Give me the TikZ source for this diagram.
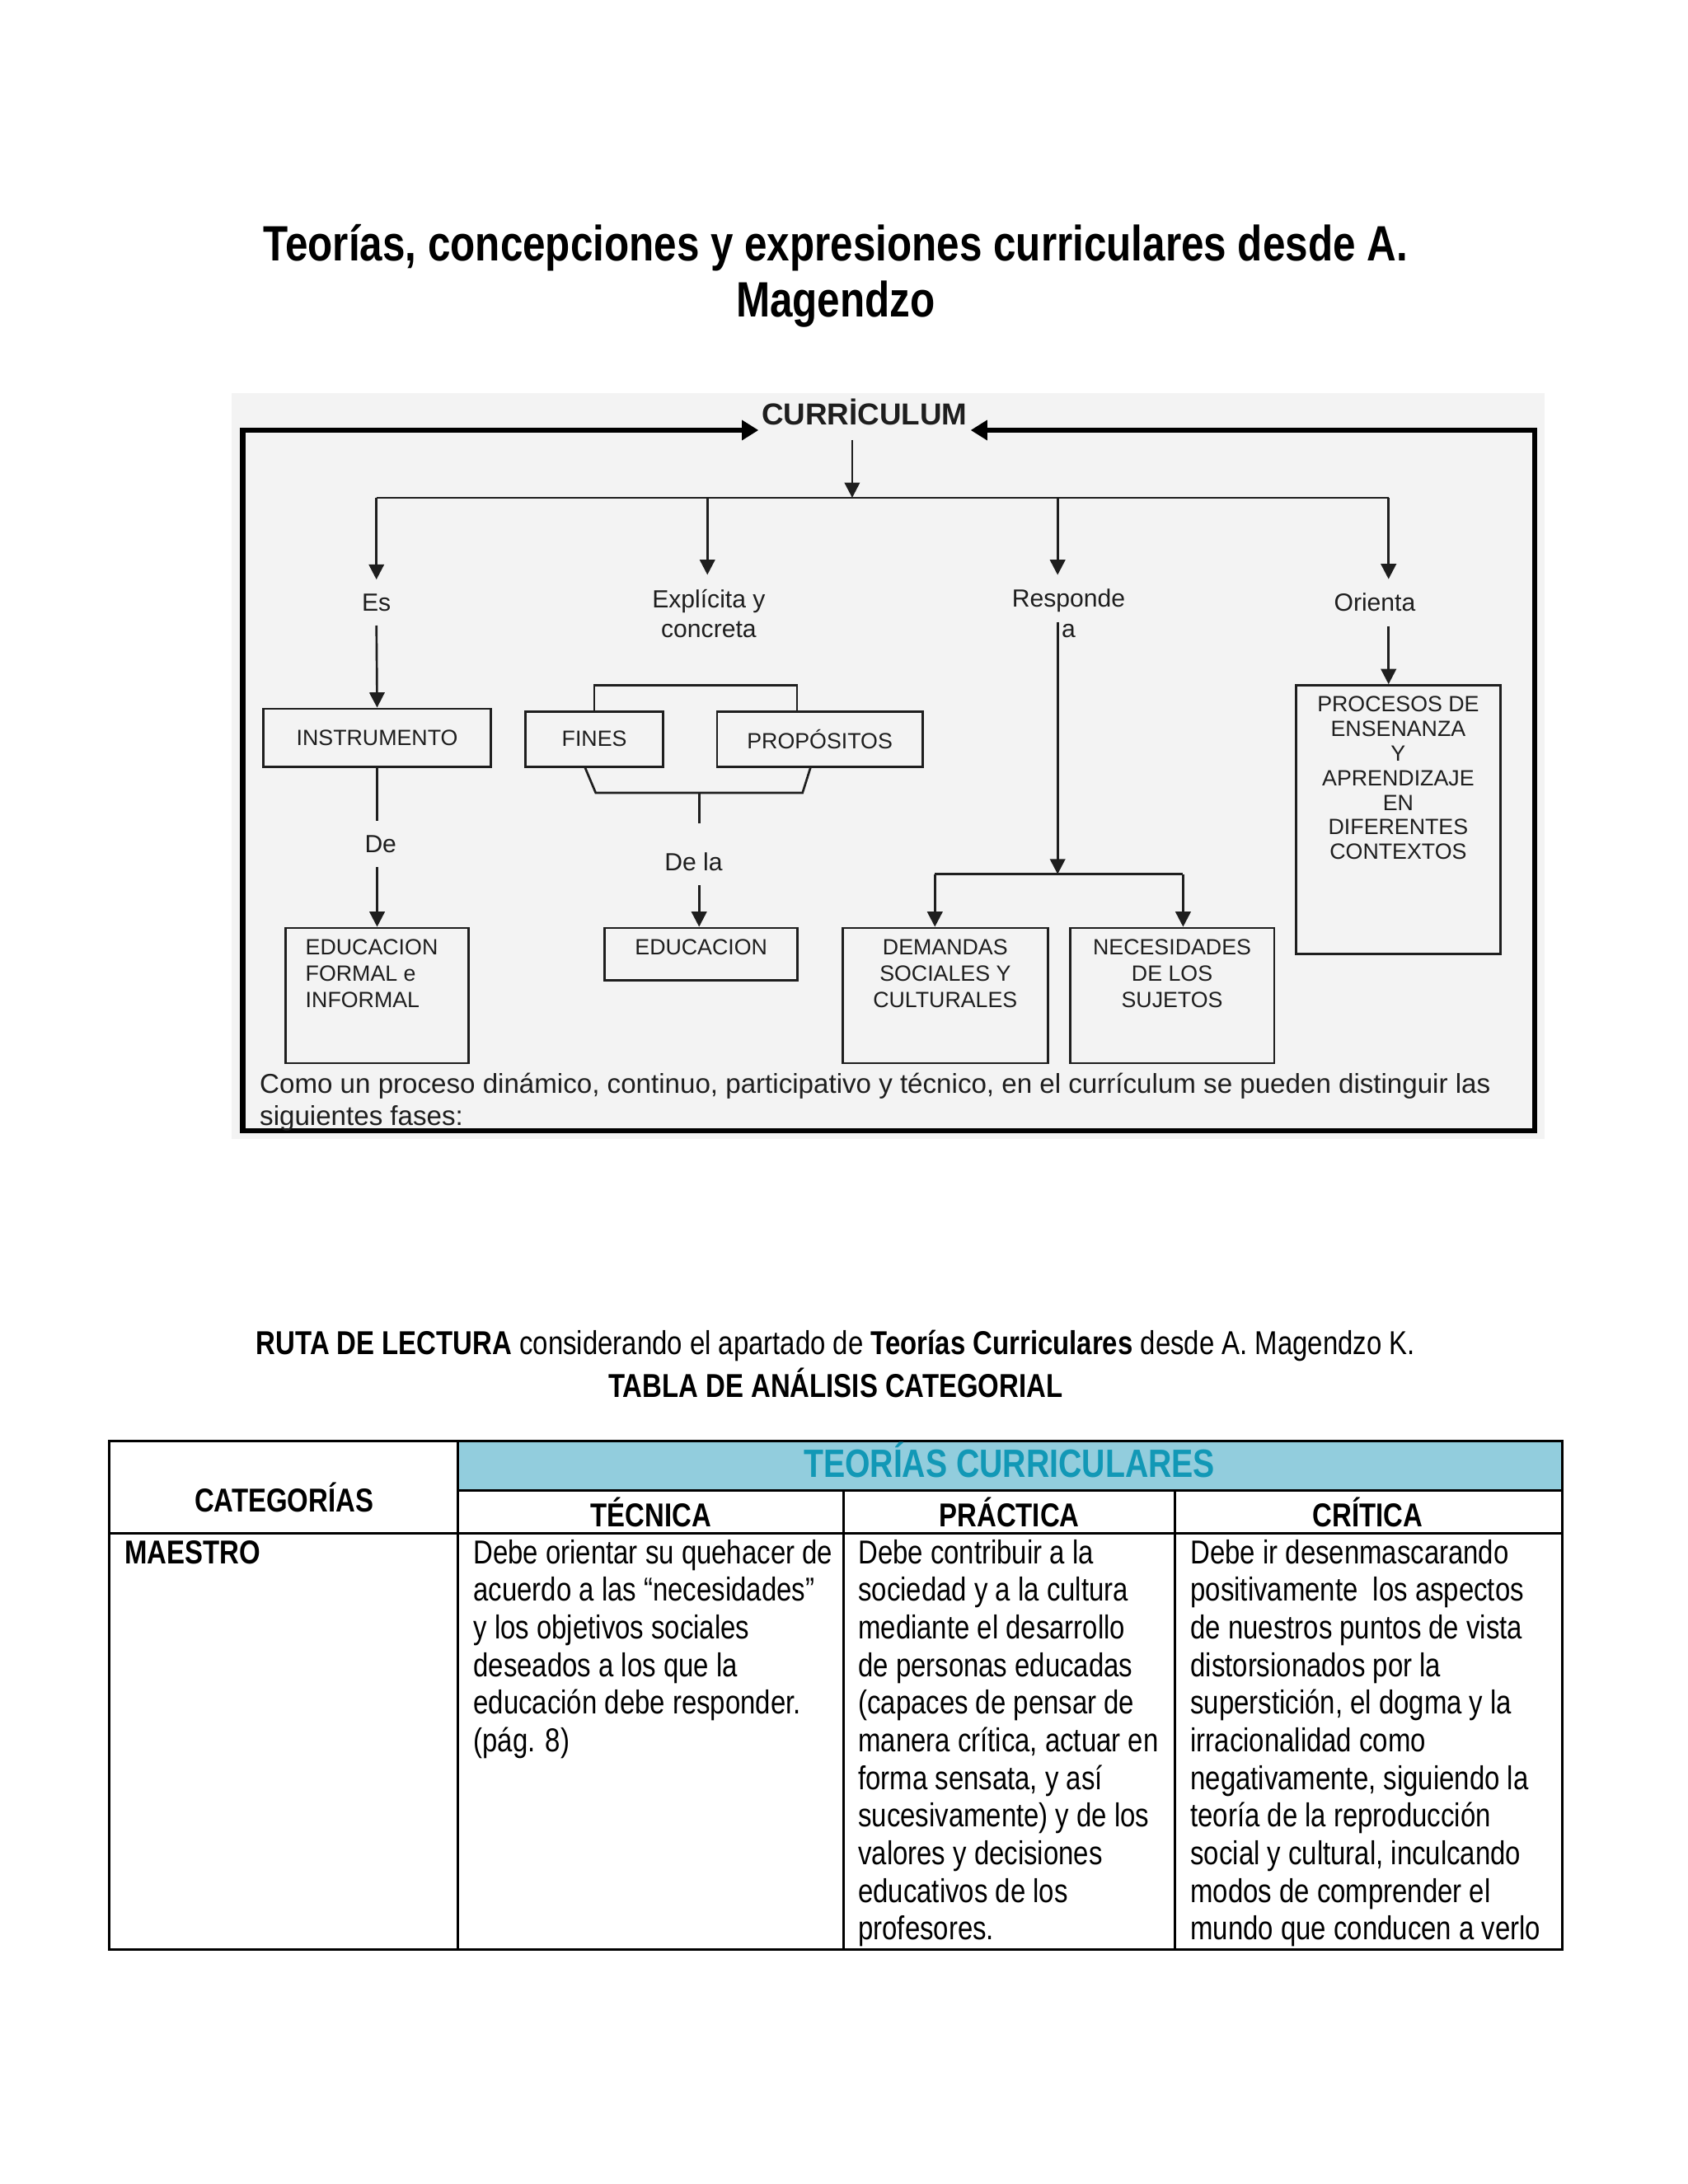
\documentclass[tikz,border=0pt]{standalone}
\usepackage{fontspec}
\setmainfont{Liberation Sans}
\newfontfamily\narrowfont{Liberation Sans}[FakeStretch=0.82]
\usetikzlibrary{arrows.meta}
\definecolor{diagbg}{RGB}{243,243,243}
\definecolor{hdrfill}{RGB}{146,205,221}
\definecolor{hdrtext}{RGB}{18,152,182}
\definecolor{ink}{RGB}{30,30,30}
\tikzset{
  conn/.style={draw=ink, line width=0.8pt},
  arr/.style={conn, -{Triangle[length=5.5pt,width=5.5pt]}},
  frameline/.style={draw=black, line width=1.9pt, line cap=rect, -{Triangle[length=6pt,width=7pt]}},
  boxst/.style={draw=ink, line width=0.8pt, inner sep=0pt, text=ink, font=\fontsize{8}{9.6}\selectfont},
  lbl/.style={text=ink, font=\fontsize{9}{11}\selectfont, align=center, inner xsep=2pt, inner ysep=5pt},
  boxtxt/.style={text=ink, font=\fontsize{8}{9.6}\selectfont, align=center, inner xsep=0pt, inner ysep=4.3pt},
  tline/.style={draw=black, line width=0.9pt},
  tbody/.style={font=\narrowfont\fontsize{12}{13.65}\selectfont, anchor=base west, inner sep=0pt},
  thead/.style={font=\narrowfont\bfseries\fontsize{12}{13.65}\selectfont, inner sep=0pt}
}
\begin{document}
\begin{tikzpicture}[x=0.5pt,y=-0.5pt]
\useasboundingbox (0,0) rectangle (1224,1584);
\fill[white] (0,0) rectangle (1224,1584);

% title
\node[font=\narrowfont\bfseries\fontsize{18}{20.5}\selectfont, align=center] (title) at (606,200)
  {Teorías, concepciones y expresiones curriculares desde A.\\Magendzo};

% ---------------- diagram ----------------
\fill[diagbg] (168,285) rectangle (1120,826);
\node[font=\bfseries\fontsize{11}{13}\selectfont, text=ink, inner sep=1pt] (curr) at (627,299) {CURRİCULUM};
\coordinate (fbl) at (176,820);
\coordinate (ftl) at (176,312);
\coordinate (fbr) at (1113,820);
\coordinate (ftr) at (1113,312);
\draw[frameline] (fbr) -- (fbl) -- (ftl) -- (ftl -| curr.west);
\draw[frameline] (fbr) -- (ftr) -- (ftr -| curr.east);

\coordinate (hubtop) at (618,319);
\coordinate (hub) at (618,361);
\draw[arr] (hubtop) -- (hub);
\coordinate (b1) at (273,361);
\coordinate (b2) at (513,361);
\coordinate (b3) at (767,361);
\coordinate (b4) at (1007,361);
\draw[conn] (b1) -- (b4);

\node[lbl] (es) at (273,437) {Es};
\node[lbl] (expl) at (514,445) {Explícita y\\concreta};
\node[lbl] (resp) at (775,445) {Responde\\a};
\node[lbl] (orient) at (997,437) {Orienta};
\draw[arr] (b1) -- (es.north);
\draw[arr] (b2) -- (b2 |- expl.north);
\draw[arr] (b3) -- (b3 |- resp.north);
\draw[arr] (b4) -- (b4 |- orient.north);

% Es branch
\node[boxst, minimum width=82.5pt, minimum height=21pt] (instr) at (273.5,535) {INSTRUMENTO};
\draw[arr] (es.south) -- (instr.north);
\node[lbl] (de) at (276,612) {De};
\draw[conn] (instr.south) -- (instr.south |- de.north);
\node[boxst, minimum width=66.5pt, minimum height=49pt,
  label={[boxtxt, align=left, anchor=north west, inner xsep=7.5pt]north west:EDUCACION\\FORMAL e\\INFORMAL}] (edf) at (273.5,722) {};
\draw[arr] (de.south -| instr.south) -- (edf.north);

% Explicita branch
\node[boxst, minimum width=50pt, minimum height=20pt] (fines) at (431,536) {FINES};
\node[boxst, minimum width=74.5pt, minimum height=20pt] (prop) at (594.5,536) {PROPÓSITOS};
\coordinate (brtop) at (578,497);
\draw[conn] (fines.north) |- (brtop) -- (brtop |- prop.north);
\coordinate (tz1) at (424,556);
\coordinate (tz2) at (432,575);
\coordinate (tz3) at (582,575);
\coordinate (tz4) at (588,556);
\coordinate (tzc) at (507,575);
\coordinate (tzd) at (507,597);
\draw[conn] (tz1) -- (tz2) -- (tz3) -- (tz4);
\draw[conn] (tzc) -- (tzd);
\node[lbl] (dela) at (503,625) {De la};
\node[boxst, minimum width=70pt, minimum height=19pt,
  label={[boxtxt, anchor=north]north:EDUCACION}] (edu) at (508.5,692) {};
\draw[arr] (dela.south -| tzc) -- (edu.north -| tzc);

% Responde branch
\coordinate (r1) at (767,451);
\coordinate (rhub) at (767,634);
\draw[arr] (r1) -- (rhub);
\coordinate (rl) at (678,634);
\coordinate (rr) at (858,634);
\draw[conn] (rl) -- (rr);
\node[boxst, minimum width=74.5pt, minimum height=49pt,
  label={[boxtxt, anchor=north]north:DEMANDAS\\SOCIALES Y\\CULTURALES}] (dem) at (685.5,722) {};
\node[boxst, minimum width=74pt, minimum height=49pt,
  label={[boxtxt, anchor=north]north:NECESIDADES\\DE LOS\\SUJETOS}] (nec) at (850,722) {};
\draw[arr] (rl) -- (rl |- dem.north);
\draw[arr] (rr) -- (rr |- nec.north);

% Orienta branch
\node[boxst, minimum width=74pt, minimum height=97.5pt,
  label={[boxtxt, anchor=north, font=\fontsize{8}{8.9}\selectfont]north:PROCESOS DE\\ENSENANZA\\Y\\APRENDIZAJE\\EN\\DIFERENTES\\CONTEXTOS}] (proc) at (1014,594.5) {};
\draw[arr] (orient.south -| b4) -- (b4 |- proc.north);

\node[text=ink, font=\fontsize{9.9}{11.5}\selectfont, align=left, anchor=north west, inner sep=0pt] (fases) at (188,778)
  {Como un proceso dinámico, continuo, participativo y técnico, en el currículum se pueden distinguir las\\siguientes fases:};

% ---------------- table ----------------
\node[font=\narrowfont\fontsize{12}{14}\selectfont] (ruta) at (606,976)
  {\textbf{RUTA DE LECTURA} considerando el apartado de \textbf{Teorías Curriculares} desde A. Magendzo K.};
\node[font=\narrowfont\bfseries\fontsize{12}{14}\selectfont] (tabla) at (606,1003) {TABLA DE ANÁLISIS CATEGORIAL};

\fill[hdrfill] (332,1045) rectangle (1133,1081);
\draw[tline] (79,1045) rectangle (1133,1414);
\draw[tline] (332,1045) -- (332,1414);
\draw[tline] (332,1081) -- (1133,1081);
\draw[tline] (79,1112) -- (1133,1112);
\draw[tline] (612,1081) -- (612,1414);
\draw[tline] (852,1081) -- (852,1414);

\node[thead] (cat) at (206,1086) {CATEGORÍAS};
\node[font=\narrowfont\bfseries\fontsize{14.3}{16}\selectfont, text=hdrtext, inner sep=0pt] (teor) at (732,1059) {TEORÍAS CURRICULARES};
\node[thead] (tec) at (472,1097) {TÉCNICA};
\node[thead] (pra) at (732,1097) {PRÁCTICA};
\node[thead] (cri) at (992,1097) {CRÍTICA};
\node[tbody, font=\narrowfont\bfseries\fontsize{12}{13.65}\selectfont] (mae) at (90,1134) {MAESTRO};

\node[tbody] (c2) at (343,1134) {\parbox[t]{220pt}{\raggedright
Debe orientar su quehacer de\\
acuerdo a las “necesidades”\\
y los objetivos sociales\\
deseados a los que la\\
educación debe responder.\\
(pág. 8)}};
\node[tbody] (c3) at (622,1134) {\parbox[t]{220pt}{\raggedright
Debe contribuir a la\\
sociedad y a la cultura\\
mediante el desarrollo\\
de personas educadas\\
(capaces de pensar de\\
manera crítica, actuar en\\
forma sensata, y así\\
sucesivamente) y de los\\
valores y decisiones\\
educativos de los\\
profesores.}};
\node[tbody] (c4) at (863,1134) {\parbox[t]{220pt}{\raggedright
Debe ir desenmascarando\\
positivamente\ \ los aspectos\\
de nuestros puntos de vista\\
distorsionados por la\\
superstición, el dogma y la\\
irracionalidad como\\
negativamente, siguiendo la\\
teoría de la reproducción\\
social y cultural, inculcando\\
modos de comprender el\\
mundo que conducen a verlo}};
\end{tikzpicture}
\end{document}
